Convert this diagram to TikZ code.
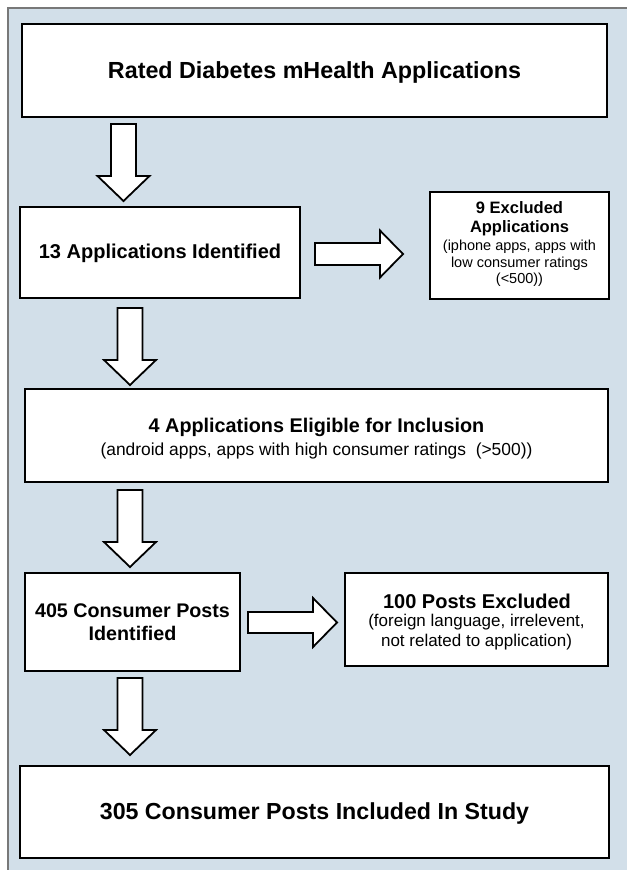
\documentclass[tikz,border=0pt]{standalone}
\usepackage{fontspec}
\setmainfont{Liberation Sans}
\definecolor{panelbg}{RGB}{210,223,233}
\definecolor{panelline}{RGB}{120,120,120}
\tikzset{
  box/.style={draw=black, line width=2.6pt, fill=white},
  blockarrow/.style={draw=black, line width=1.8pt, fill=white, line join=miter},
  txt/.style={align=center, inner sep=0pt},
}
\newcommand{\fs}[2]{\fontsize{#1}{#2}\selectfont}
\newcommand{\downblock}[4]{% cx, top, headtop, tip
  \draw[blockarrow] ({#1-12.5},{-#2}) -- ({#1+12.5},{-#2}) -- ({#1+12.5},{-#3}) -- ({#1+26},{-#3}) -- ({#1},{-#4}) -- ({#1-26},{-#3}) -- ({#1-12.5},{-#3}) -- cycle;}
\newcommand{\rightblock}[6]{% left, cy, shafthalf, headx, headhalf, tip
  \draw[blockarrow] ({#1},{-#2+#3}) -- ({#4},{-#2+#3}) -- ({#4},{-#2+#5}) -- ({#6},{-#2}) -- ({#4},{-#2-#5}) -- ({#4},{-#2-#3}) -- ({#1},{-#2-#3}) -- cycle;}
\begin{document}
\begin{tikzpicture}[x=1pt,y=1pt]
\useasboundingbox (0,0) rectangle (627,-870);
\fill[panelbg] (8,-8) rectangle (627,-870);
\draw[panelline, line width=1.5pt] (8,-870) -- (8,-8) -- (627,-8);
% boxes
\draw[box] (22,-24) rectangle (607,-117);
\node[txt, font=\bfseries\fs{23.3}{27}] (b1) at (314.5,-72) {Rated Diabetes mHealth Applications};
\draw[box] (20,-207) rectangle (300,-298);
\node[txt, font=\bfseries\fs{20}{24}] (b2) at (160,-253) {13 Applications Identified};
\draw[box] (430,-192) rectangle (609,-299);
\node[txt, font=\bfseries\fs{16.5}{19}] (b3t) at (519.5,-218.5) {9 Excluded\\Applications};
\node[txt, font=\fs{14.5}{16.5}] (b3s) at (519.5,-263.5) {(iphone apps, apps with\\low consumer ratings\\(<500))};
\draw[box] (25,-389) rectangle (608,-482);
\node[txt, font=\bfseries\fs{19.8}{23}] (b4t) at (316.5,-427) {4 Applications Eligible for Inclusion};
\node[txt, font=\fs{17.4}{21}] (b4s) at (316.5,-451) {(android apps, apps with high consumer ratings\ \ (>500))};
\draw[box] (25,-573) rectangle (240,-671);
\node[txt, font=\bfseries\fs{19.7}{23}] (b5) at (132.5,-622.5) {405 Consumer Posts\\Identified};
\draw[box] (345,-573) rectangle (608,-666);
\node[txt, font=\bfseries\fs{20}{24}] (b6t) at (477,-601) {100 Posts Excluded};
\node[txt, font=\fs{17}{20}] (b6s) at (476.5,-632.5) {(foreign language, irrelevent,\\not related to application)};
\draw[box] (20,-766) rectangle (609,-858);
\node[txt, font=\bfseries\fs{23.2}{27}] (b7) at (314.5,-813) {305 Consumer Posts Included In Study};
% arrows
\downblock{123.5}{124}{176}{201}
\downblock{130}{308}{360}{385}
\downblock{130}{490}{542}{567}
\downblock{130}{678}{730}{755}
\rightblock{315}{254}{11}{380}{23.5}{403}
\rightblock{248}{622.5}{10.5}{313}{24.5}{337}
\end{tikzpicture}
\end{document}
